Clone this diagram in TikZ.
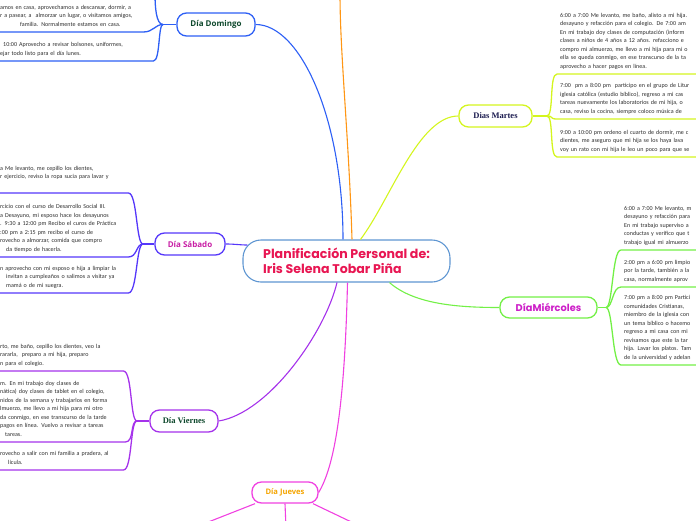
\documentclass[tikz,border=0pt]{standalone}
\usepackage{fontspec}
\setmainfont{Carlito}
\newfontfamily\headsans{Open Sans}
\newfontfamily\headserif{Liberation Serif}
\newfontfamily\headdisplay{Poppins}
\usetikzlibrary{positioning, calc}
\definecolor{cblue}{RGB}{95,150,210}
\definecolor{cred}{RGB}{232,22,82}
\definecolor{qdom}{RGB}{45,95,245}
\definecolor{qsab}{RGB}{85,55,250}
\definecolor{qvie}{RGB}{165,50,235}
\definecolor{qjue}{RGB}{240,65,225}
\definecolor{qmar}{RGB}{212,245,30}
\definecolor{qmie}{RGB}{115,240,70}
\definecolor{qlun}{RGB}{255,150,20}
\definecolor{tgreen}{RGB}{14,72,44}
\definecolor{tmag}{RGB}{200,30,165}
\definecolor{torange}{RGB}{245,165,0}
\definecolor{tnavy}{RGB}{28,28,80}
\definecolor{tpink}{RGB}{205,30,200}
\definecolor{leafgray}{RGB}{45,45,45}

\begin{document}
\begin{tikzpicture}[
    x=1pt, y=-1pt,
    centralbox/.style={draw=cblue, line width=1.1pt, fill=white, rounded corners=18pt, minimum width=207pt, minimum height=42pt, align=left, text=cred, font=\headdisplay\bfseries\fontsize{12.6}{15}\selectfont},
    daybox/.style={draw, line width=1.3pt, fill=white, rounded corners=9.5pt, minimum height=22pt, inner sep=0pt},
    leafbox/.style={anchor=south west, align=left, inner xsep=3pt, inner ysep=3pt, text=leafgray, font=\fontsize{6.05}{8.5}\selectfont, execute at end node={\strut}},
    leafline/.style={line width=1.3pt},
    mainlink/.style={line width=1.1pt},
]
    \useasboundingbox (0,0) rectangle (696,520);

    % Central
    \node[centralbox] (ctr) at (346.5,261) {Planificación Personal de:\\Iris Selena Tobar Piña};

    % Dia Domingo
    \node[daybox, draw=qdom, minimum width=78pt, minimum height=23pt, text=tgreen, font=\headsans\bfseries\fontsize{8}{9}\selectfont] (dom) at (216,24.5) {Día Domingo};
    \coordinate (jdom) at (163,24.5);
    \coordinate (dtop) at (155,-6);
    \node[leafbox, text width=140pt] (dl1) at (-3,32) {\mbox{amos en casa, aprovechamos a descansar, dormir, a}\\\mbox{r a pasear, a\ \ almorzar un lugar, o visitamos amigos,}\\\hspace*{20pt}familia. Normalmente estamos en casa.};
    \node[leafbox, text width=150pt] (dl2) at (-3,61) {\hspace*{3pt}10:00 Aprovecho a revisar bolsones, uniformes,\\ejar todo listo para el día lunes.};

    % Dia Sabado
    \node[daybox, draw=qsab, minimum width=70pt, text=tmag, font=\headsans\bfseries\fontsize{8}{9}\selectfont] (sab) at (190,244) {Día Sábado};
    \coordinate (jsab) at (143,244);
    \node[leafbox, text width=125pt] (sl1) at (-3,193) {a Me levanto, me cepillo los dientes,\\r ejercicio, reviso la ropa sucia para lavar y\\\mbox{}};
    \node[leafbox, text width=125pt] (sl2) at (-3,257) {rcicio con el curso de Desarrollo Social III.\\a Desayuno, mi esposo hace los desayunos\\\mbox{. 9:30 a 12:00 pm Recibo el curos de Práctica}\\:00 pm a 2:15 pm recibo el curso de\\rovecho a almorzar, comida que compro\\\hspace*{6pt}da tiempo de hacerla.};
    \node[leafbox, text width=125pt] (sl3) at (-3,293) {n aprovecho con mi esposo e hija a limpiar la\\\hspace*{6pt}invitan a cumpleaños o salimos a visitar ya\\\hspace*{6pt}mamá o de mi suegra.};

    % Dia Viernes
    \node[daybox, draw=qvie, minimum width=68pt, text=tgreen, font=\headserif\bfseries\fontsize{8.5}{9}\selectfont] (vie) at (184,421) {Día Viernes};
    \coordinate (jvie) at (137,421);
    \node[leafbox, text width=120pt] (vl1) at (-3,371) {rto, me baño, cepillo los dientes, veo la\\rararla,\ \ preparo a mi hija, preparo\\n para el colegio.};
    \node[leafbox, text width=122pt] (vl2) at (-3,442) {m. En mi trabajo doy clases de\\nática) doy clases de tablet en el colegio,\\\mbox{nidos de la semana y trabajarlos en forma}\\lmuerzo, me llevo a mi hija para mi otro\\da conmigo, en ese transcurso de la tarde\\pagos en línea. Vuelvo a revisar a tareas\\\hspace*{5pt}tareas.};
    \node[leafbox, text width=120pt] (vl3) at (-3,470) {\mbox{rovecho a salir con mi familia a pradera, al}\\\hspace*{8pt}lícula.};

    % Dia Jueves
    \node[daybox, draw=qjue, minimum width=66pt, minimum height=21pt, text=torange, font=\headsans\bfseries\fontsize{7.6}{9}\selectfont] (jue) at (285,492.5) {Día Jueves};
    \coordinate (jc1) at (193,528);
    \coordinate (jc2) at (286,528);
    \coordinate (jc3) at (364,528);

    % Dias Martes
    \node[daybox, draw=qmar, minimum width=73pt, text=tnavy, font=\headserif\bfseries\fontsize{8.5}{9}\selectfont] (mar) at (495.5,116) {Dias Martes};
    \coordinate (jmar) at (547,116);
    \node[leafbox, text width=200pt] (ml1) at (557,74) {6:00 a 7:00 Me levanto, me baño, alisto a mi hija.\\desayuno y refacción para el colegio. De 7:00 am\\En mi trabajo doy clases de computación (inform\\clases a niños de 4 años a 12 años. refacciono e\\compro mi almuerzo, me llevo a mi hija para mi o\\ella se queda conmigo, en ese transcurso de la ta\\aprovecho a hacer pagos en línea.};
    \node[leafbox, text width=200pt] (ml2) at (557,119) {7:00\ \ pm a 8:00 pm\ \ participo en el grupo de Litur\\iglesia católica (estudio bíblico), regreso a mi cas\\tareas nuevamente los laboratorios de mi hija, o\\casa, reviso la cocina, siempre coloco música de};
    \node[leafbox, text width=200pt] (ml3) at (557,157) {9:00 a 10:00 pm ordeno el cuarto de dormir, me c\\dientes, me aseguro que mi hija se los haya lava\\voy un rato con mi hija le leo un poco para que se};

    % Dia Miercoles
    \node[daybox, draw=qmie, minimum width=97pt, minimum height=21pt, text=tpink, font=\headdisplay\bfseries\fontsize{9.8}{10}\selectfont] (mie) at (548.5,307.5) {DíaMiércoles};
    \coordinate (jmie) at (606,307.5);
    \node[leafbox, text width=120pt] (wl1) at (621,250) {6:00 a 7:00 Me levanto, m\\desayuno y refacción para\\En mi trabajo superviso a\\conductas y verifico que t\\trabajo igual mi almuerzo};
    \node[leafbox, text width=120pt] (wl2) at (621,287) {2:00 pm a 6:00 pm limpio\\por la tarde, también a la\\casa, normalmente aprov};
    \node[leafbox, text width=120pt] (wl3) at (621,365) {7:00 pm a 8:00 pm Partici\\comunidades Cristianas,\\miembro de la iglesia con\\un tema bíblico o hacemo\\regreso a mi casa con mi\\revisamos que este la tar\\hija. Lavar los platos. Tam\\de la universidad y adelan};

    % Dia Lunes (off the page)
    \coordinate (lun) at (340,-6);

    % links from the centre
    \draw[mainlink, qdom] (dom.east) .. controls +(45,0) and +(0,-120) .. ([xshift=-3.5pt]ctr.north);
    \draw[mainlink, qlun] ([xshift=5.5pt]ctr.north) .. controls +(-3,-100) and +(0,60) .. (lun);
    \draw[mainlink, qmar] ([xshift=14pt]ctr.north) .. controls +(30,-40) and +(-40,0) .. (mar.west);
    \draw[mainlink, qsab] (sab.east) .. controls +(10,0) and +(-8,0) .. ($(ctr.west)+(5,-16)$);
    \draw[mainlink, qmie] ([xshift=43pt]ctr.south) .. controls +(25,22) and +(-40,0) .. (mie.west);
    \draw[mainlink, qjue] ([xshift=1pt]ctr.south) .. controls +(-3,130) and +(15,-25) .. (jue.east);
    \draw[mainlink, qvie] ([xshift=-9.5pt]ctr.south) .. controls +(-12,50) and +(50,-8) .. (vie.east);

    % Domingo leaves
    \draw[leafline, qdom] (dom.west) -- (jdom);
    \draw[leafline, qdom] (jdom) .. controls +(-7,0) and +(0,12) .. (dtop);
    \draw[leafline, qdom] (dl1.south west) -- (dl1.south east) .. controls +(10,0) and +(-8,0) .. (jdom);
    \draw[leafline, qdom] (dl2.south west) -- (dl2.south east) .. controls +(7,0) and +(-5,0) .. (jdom);

    % Sabado leaves
    \draw[leafline, qsab] (sab.west) -- (jsab);
    \draw[leafline, qsab] (sl1.south west) -- (sl1.south east) .. controls +(9,0) and +(-7,0) .. (jsab);
    \draw[leafline, qsab] (sl2.south west) -- (sl2.south east) .. controls +(9,0) and +(-7,0) .. (jsab);
    \draw[leafline, qsab] (sl3.south west) -- (sl3.south east) .. controls +(9,0) and +(-7,0) .. (jsab);

    % Viernes leaves
    \draw[leafline, qvie] (vie.west) -- (jvie);
    \draw[leafline, qvie] (vl1.south west) -- (vl1.south east) .. controls +(9,0) and +(-7,0) .. (jvie);
    \draw[leafline, qvie] (vl2.south west) -- (vl2.south east) .. controls +(9,0) and +(-7,0) .. (jvie);
    \draw[leafline, qvie] (vl3.south west) -- (vl3.south east) .. controls +(9,0) and +(-7,0) .. (jvie);

    % Jueves leaves
    \draw[mainlink, qjue] ([xshift=-30pt]jue.south) -- (jc1);
    \draw[mainlink, qjue] (jue.south) -- (jc2);
    \draw[mainlink, qjue] ([xshift=28pt]jue.south) -- (jc3);

    % Martes leaves
    \draw[leafline, qmar] (mar.east) -- (jmar);
    \draw[leafline, qmar] (ml1.south east) -- (ml1.south west) .. controls +(-8,0) and +(7,0) .. (jmar);
    \draw[leafline, qmar] (ml2.south east) -- (ml2.south west) .. controls +(-8,0) and +(7,0) .. (jmar);
    \draw[leafline, qmar] (ml3.south east) -- (ml3.south west) .. controls +(-8,0) and +(7,0) .. (jmar);

    % Miercoles leaves
    \draw[leafline, qmie] (mie.east) -- (jmie);
    \draw[leafline, qmie] (wl1.south east) -- (wl1.south west) .. controls +(-9,0) and +(7,0) .. (jmie);
    \draw[leafline, qmie] (wl2.south east) -- (wl2.south west) .. controls +(-9,0) and +(7,0) .. (jmie);
    \draw[leafline, qmie] (wl3.south east) -- (wl3.south west) .. controls +(-9,0) and +(7,0) .. (jmie);
\end{tikzpicture}
\end{document}
